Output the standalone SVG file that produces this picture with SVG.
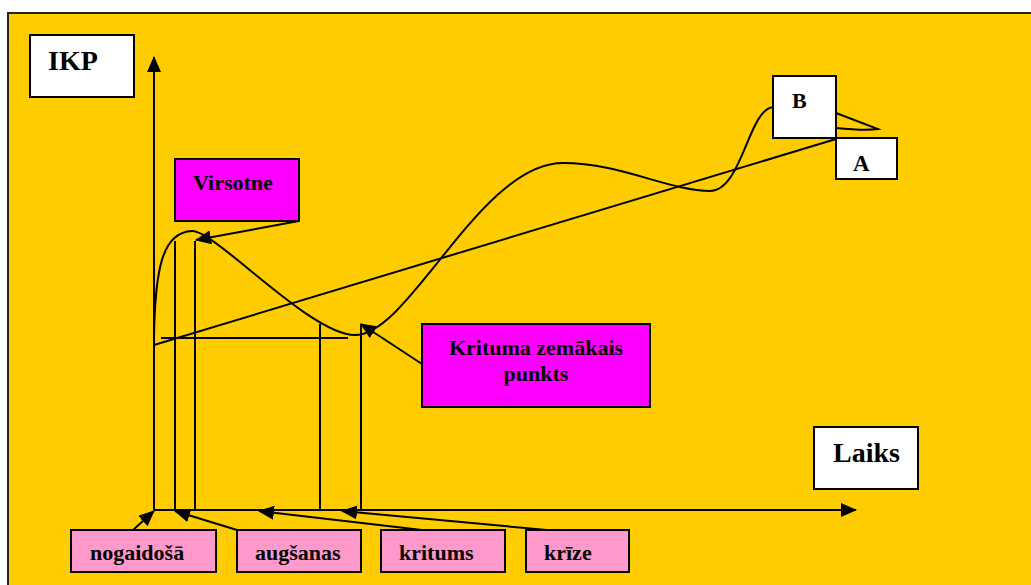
<svg xmlns="http://www.w3.org/2000/svg" width="1031" height="585" viewBox="0 0 1031 585">
  <defs>
    <marker id="arrow" markerUnits="userSpaceOnUse" markerWidth="16" markerHeight="14" refX="15" refY="7" orient="auto">
      <path d="M0,0 L16,7 L0,14 Z" fill="#000"/>
    </marker>
    <style>
      .box { stroke: #000; stroke-width: 2; }
      .white { fill: #fff; }
      .magenta { fill: #ff00ff; }
      .pink { fill: #ff99cc; }
      .lbl { font-family: "Liberation Serif", "Times New Roman", serif; font-weight: bold; fill: #000; }
      .ln { fill: none; stroke: #000; stroke-width: 2; }
      .arr { fill: none; stroke: #000; stroke-width: 2; marker-end: url(#arrow); }
    </style>
  </defs>

  <!-- page background and slide frame -->
  <rect x="0" y="0" width="1031" height="585" fill="#fff"/>
  <rect x="8" y="13" width="1030" height="580" fill="#ffcc00" stroke="#222" stroke-width="2"/>

  <g id="connectors">
    <!-- axes -->
    <line class="arr" x1="154" y1="510" x2="154" y2="57"/>
    <line class="arr" x1="154" y1="510" x2="856" y2="510"/>
    <!-- business cycle curve -->
    <path class="ln" d="M154,338 C155,270 162,232 192,231 C215,230 310,335 355,335 C410,335 480,163 563,163 C620,163 670,191 710,191 C742,191 748,110 773,107"/>
    <path class="ln" d="M836,113 L878,129 Q866,131 836,128"/>
    <!-- trend line -->
    <line class="ln" x1="154" y1="345" x2="836" y2="139"/>
    <!-- reference lines -->
    <line class="ln" x1="161" y1="338" x2="348" y2="338"/>
    <line class="ln" x1="175" y1="241" x2="175" y2="510"/>
    <line class="ln" x1="195" y1="241" x2="195" y2="510"/>
    <line class="ln" x1="320" y1="324" x2="320" y2="510"/>
    <line class="ln" x1="361" y1="324" x2="361" y2="510"/>
    <!-- label pointers -->
    <line class="arr" x1="299" y1="221" x2="196" y2="240"/>
    <line class="arr" x1="422" y1="364" x2="361" y2="324"/>
    <line class="arr" x1="133" y1="530" x2="154" y2="511"/>
    <line class="arr" x1="237" y1="530" x2="175" y2="511"/>
    <line class="arr" x1="422" y1="530" x2="259" y2="511"/>
    <line class="arr" x1="547" y1="530" x2="342" y2="511"/>
  </g>

  <g id="ikp">
    <rect class="box white" x="30" y="35" width="104" height="62"/>
    <text class="lbl" x="48" y="70" font-size="28">IKP</text>
  </g>

  <g id="virsotne">
    <rect class="box magenta" x="175" y="159" width="124" height="62"/>
    <text class="lbl" x="193" y="190" font-size="22">Virsotne</text>
  </g>

  <g id="b">
    <rect class="box white" x="773" y="76" width="63" height="62"/>
    <text class="lbl" x="792" y="108" font-size="22">B</text>
  </g>

  <g id="a">
    <rect class="box white" x="836" y="138" width="61" height="41"/>
    <text class="lbl" x="853" y="171" font-size="23">A</text>
  </g>

  <g id="krituma-punkts">
    <rect class="box magenta" x="422" y="324" width="228" height="83"/>
    <text class="lbl" x="536" y="355" font-size="22" text-anchor="middle">Krituma zemākais</text>
    <text class="lbl" x="536" y="381" font-size="22" text-anchor="middle">punkts</text>
  </g>

  <g id="laiks">
    <rect class="box white" x="814" y="427" width="104" height="62"/>
    <text class="lbl" x="833" y="462" font-size="28">Laiks</text>
  </g>

  <g id="nogaidosa">
    <rect class="box pink" x="71" y="530" width="145" height="42"/>
    <text class="lbl" x="90" y="560" font-size="22">nogaidošā</text>
  </g>

  <g id="augsanas">
    <rect class="box pink" x="237" y="530" width="124" height="42"/>
    <text class="lbl" x="255" y="560" font-size="22">augšanas</text>
  </g>

  <g id="kritums">
    <rect class="box pink" x="381" y="530" width="124" height="42"/>
    <text class="lbl" x="399" y="560" font-size="22">kritums</text>
  </g>

  <g id="krize">
    <rect class="box pink" x="526" y="530" width="103" height="42"/>
    <text class="lbl" x="544" y="560" font-size="22">krīze</text>
  </g>
</svg>
